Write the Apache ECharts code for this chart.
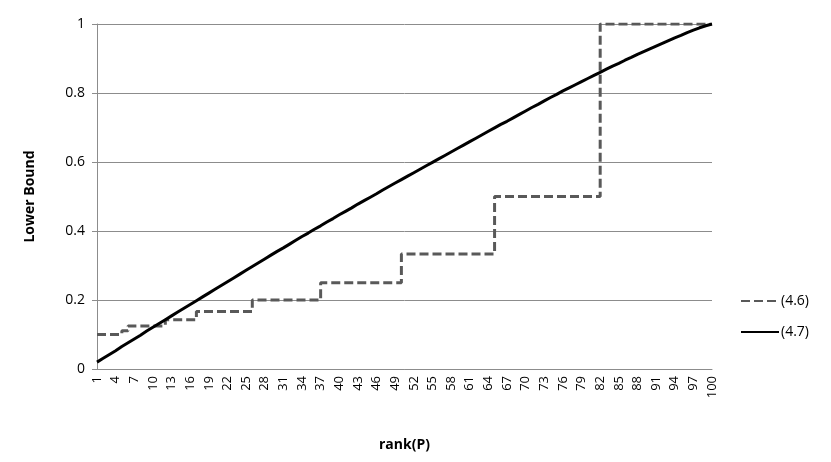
<!DOCTYPE html>
<html>
<head>
<meta charset="utf-8">
<script src="https://cdn.jsdelivr.net/npm/echarts@6/dist/echarts.min.js"></script>
<style>
  html, body { margin: 0; padding: 0; background: #fff; }
  #chart { width: 831px; height: 462px; }
</style>
</head>
<body>
<div id="chart"></div>
<script>
// rank 1..100 on the category axis
const ranks = Array.from({ length: 100 }, (_, i) => String(i + 1))

// (4.6) step series
const bound46 = [
  0.1, 0.1, 0.1, 0.1,
  0.1111,
  0.125, 0.125, 0.125, 0.125, 0.125, 0.125,
  0.1429, 0.1429, 0.1429, 0.1429, 0.1429,
  0.1667, 0.1667, 0.1667, 0.1667, 0.1667, 0.1667, 0.1667, 0.1667, 0.1667,
  0.2, 0.2, 0.2, 0.2, 0.2, 0.2, 0.2, 0.2, 0.2, 0.2, 0.2,
  0.25, 0.25, 0.25, 0.25, 0.25, 0.25, 0.25, 0.25, 0.25, 0.25, 0.25, 0.25, 0.25,
  0.3333, 0.3333, 0.3333, 0.3333, 0.3333, 0.3333, 0.3333, 0.3333, 0.3333, 0.3333, 0.3333, 0.3333, 0.3333, 0.3333, 0.3333,
  0.5, 0.5, 0.5, 0.5, 0.5, 0.5, 0.5, 0.5, 0.5, 0.5, 0.5, 0.5, 0.5, 0.5, 0.5, 0.5, 0.5,
  1, 1, 1, 1, 1, 1, 1, 1, 1, 1, 1, 1, 1, 1, 1, 1, 1, 1, 1
]

// (4.7) smooth curve
const bound47 = [
  0.020, 0.031, 0.042, 0.053, 0.065, 0.076, 0.087, 0.098, 0.110, 0.121,
  0.132, 0.143, 0.154, 0.165, 0.176, 0.187, 0.198, 0.209, 0.220, 0.231,
  0.242, 0.253, 0.264, 0.275, 0.286, 0.297, 0.308, 0.319, 0.330, 0.341,
  0.351, 0.362, 0.373, 0.384, 0.394, 0.405, 0.415, 0.426, 0.436, 0.447,
  0.457, 0.467, 0.478, 0.488, 0.498, 0.508, 0.519, 0.529, 0.539, 0.549,
  0.559, 0.569, 0.579, 0.589, 0.599, 0.609, 0.619, 0.629, 0.639, 0.649,
  0.659, 0.669, 0.679, 0.689, 0.699, 0.709, 0.718, 0.728, 0.738, 0.748,
  0.758, 0.767, 0.777, 0.787, 0.796, 0.806, 0.815, 0.824, 0.833, 0.842,
  0.851, 0.860, 0.869, 0.878, 0.886, 0.895, 0.903, 0.912, 0.920, 0.928,
  0.936, 0.944, 0.952, 0.960, 0.967, 0.975, 0.982, 0.989, 0.995, 1.000
]

const seriesNames = ["(4.6)", "(4.7)"]
const yTicks = [0, 0.2, 0.4, 0.6, 0.8, 1]

const fontName = "'Open Sans', 'Liberation Sans', Arial, sans-serif"
const gridGray = "#8c8c8c"

let chartEl = echarts.init(document.getElementById("chart"))
let option = {
  animation: false,
  textStyle: { fontFamily: fontName, color: "#000" },
  grid: {
    left: 97,
    right: 119,
    top: 24,
    bottom: 93
  },
  legend: {
    orient: "vertical",
    left: 735,
    top: 289,
    itemWidth: 38,
    itemHeight: 14,
    itemGap: 17,
    itemStyle: { opacity: 0 },
    textStyle: { fontSize: 14, color: "#000", fontFamily: fontName, padding: [0, 0, 0, -3] },
    data: seriesNames
  },
  xAxis: {
    type: "category",
    data: ranks,
    boundaryGap: false,
    name: "rank(P)",
    nameLocation: "middle",
    nameGap: 69,
    nameTextStyle: { fontWeight: "bold", fontSize: 14, color: "#000" },
    axisLine: { lineStyle: { color: gridGray, width: 1 } },
    axisTick: { show: false },
    axisLabel: {
      interval: 2,
      rotate: 90,
      fontSize: 13,
      color: "#000",
      margin: 7
    },
    splitLine: { show: false }
  },
  yAxis: {
    type: "value",
    min: yTicks[0],
    max: yTicks[yTicks.length - 1],
    interval: 0.2,
    name: "Lower Bound",
    nameLocation: "middle",
    nameGap: 60,
    nameTextStyle: { fontWeight: "bold", fontSize: 14, color: "#000" },
    axisLine: { show: true, lineStyle: { color: gridGray, width: 1 } },
    axisTick: { show: true, length: 5, lineStyle: { color: gridGray } },
    axisLabel: { fontSize: 14, color: "#000", margin: 12 },
    splitLine: { lineStyle: { color: gridGray, width: 1 } }
  },
  series: [
    {
      name: seriesNames[0],
      type: "line",
      step: "end",
      data: bound46,
      symbol: "none",
      lineStyle: { color: "#595959", width: 3, type: [9, 4] },
      itemStyle: { color: "#595959" },
      z: 3
    },
    {
      name: seriesNames[1],
      type: "line",
      data: bound47,
      symbol: "none",
      lineStyle: { color: "#000", width: 3 },
      itemStyle: { color: "#000" },
      z: 4
    }
  ]
}
chartEl.setOption(option)
</script>
</body>
</html>
